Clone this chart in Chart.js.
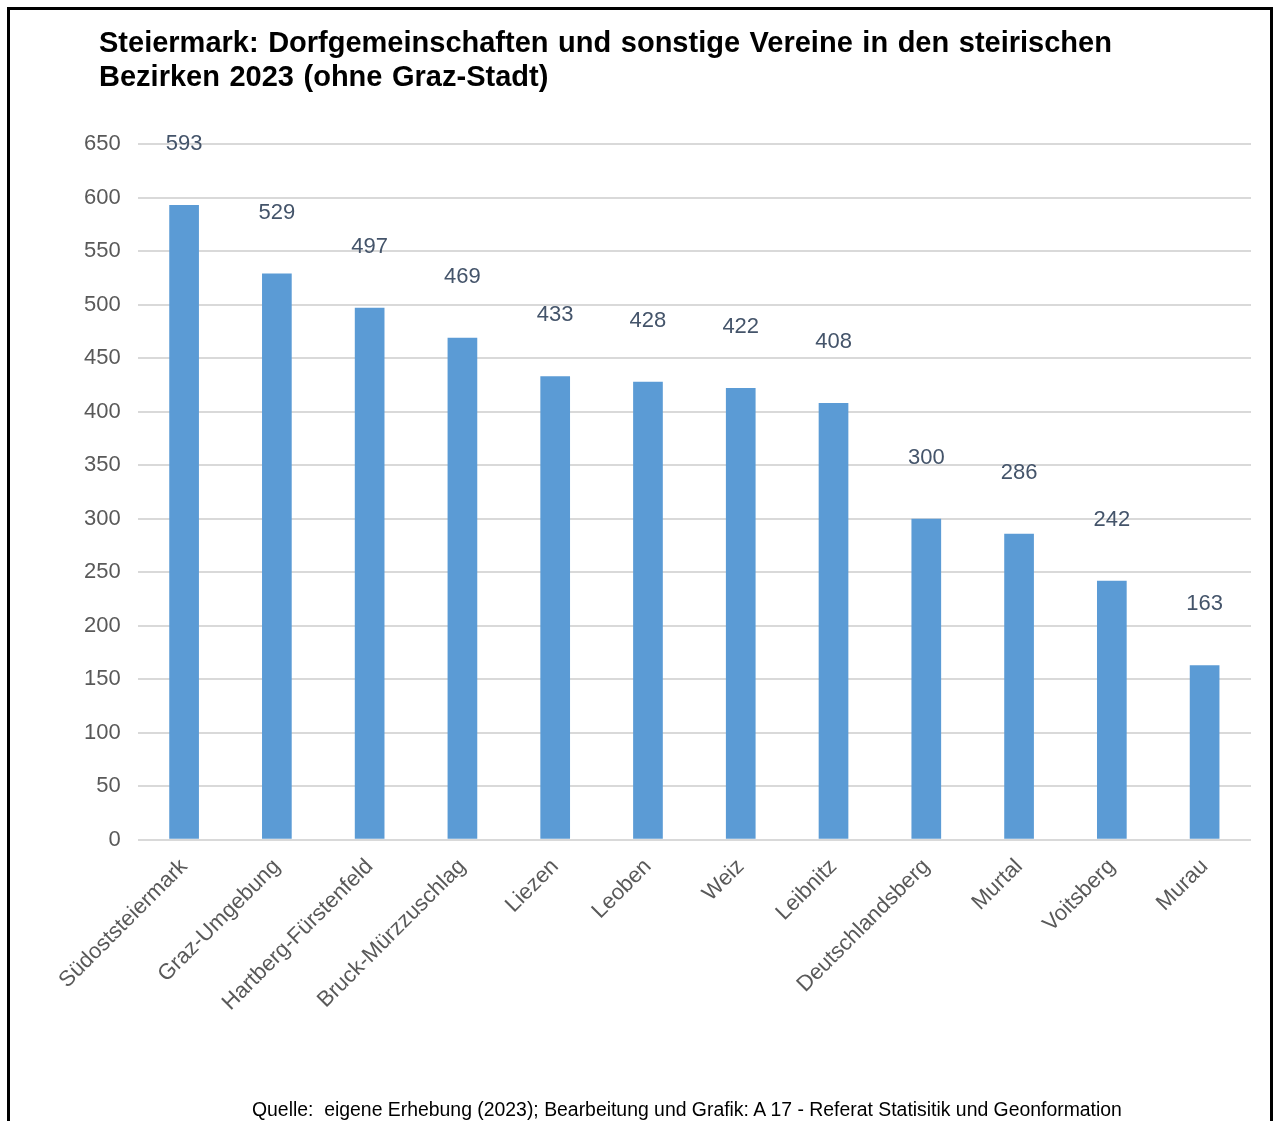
<!DOCTYPE html>
<html>
<head>
<meta charset="utf-8">
<script src="https://cdn.jsdelivr.net/npm/chart.js@4.4.0/dist/chart.umd.min.js"></script>
<style>
  body { margin: 0; background: #fff; overflow: hidden; }
  #wrap { position: relative; width: 1276px; height: 1121px; }
  #rahmen { position: absolute; left: 7px; top: 7px; width: 1266px; height: 1140px; border: 3px solid #000; box-sizing: border-box; }
  #titel { position: absolute; left: 99px; top: 25px; font: bold 29px 'Liberation Sans', Arial, sans-serif; line-height: 34px; word-spacing: 1.5px; color: #000; white-space: pre; }
  #quelle { position: absolute; left: 252px; top: 1097px; font: 19.4px 'Liberation Sans', Arial, sans-serif; line-height: 24px; color: #000; white-space: pre; }
  canvas { position: absolute; left: 0; top: 0; }
</style>
</head>
<body>
<div id="wrap">
  <div id="rahmen"></div>
  <canvas id="myChart" width="1276" height="1121"></canvas>
  <div id="titel">Steiermark: Dorfgemeinschaften und sonstige Vereine in den steirischen
Bezirken 2023 (ohne Graz-Stadt)</div>
  <div id="quelle">Quelle:  eigene Erhebung (2023); Bearbeitung und Grafik: A 17 - Referat Statisitik und Geonformation</div>
</div>
<script>
// Daten aus der Grafik
const bezirke = ['Südoststeiermark', 'Graz-Umgebung', 'Hartberg-Fürstenfeld', 'Bruck-Mürzzuschlag',
    'Liezen', 'Leoben', 'Weiz', 'Leibnitz', 'Deutschlandsberg', 'Murtal', 'Voitsberg', 'Murau'];
const vereine = [593, 529, 497, 469, 433, 428, 422, 408, 300, 286, 242, 163];
const yMin = 0;
const yMax = 650;
const yStep = 50;

// Werte über den Balken (mit Abstand wie im Original)
const wertePlugin = {
    id: 'werte',
    afterDatasetsDraw(chart) {
        const ctx = chart.ctx;
        ctx.save();
        ctx.font = '22px "Liberation Sans", Arial, sans-serif';
        ctx.fillStyle = '#44546A';
        ctx.textAlign = 'center';
        ctx.textBaseline = 'middle';
        chart.getDatasetMeta(0).data.forEach((bar, i) => {
            ctx.fillText(vereine[i], bar.x, bar.y - 61);
        });
        ctx.restore();
    }
};

const ctx = document.getElementById('myChart').getContext('2d');
const myChart = new Chart(ctx, {
    type: 'bar',
    data: {
        labels: bezirke,
        datasets: [{
            data: vereine,
            backgroundColor: '#5B9BD5',
            borderWidth: 0,
            categoryPercentage: 1,
            barPercentage: 0.32
        }]
    },
    options: {
        responsive: false,
        animation: false,
        layout: {
            padding: { left: 67, right: 25, top: 144, bottom: 99 }
        },
        scales: {
            x: {
                grid: { display: false },
                border: { display: false },
                ticks: {
                    color: '#595959',
                    font: { family: '"Liberation Sans", Arial, sans-serif', size: 22 },
                    minRotation: 45,
                    maxRotation: 45,
                    padding: 6,
                    autoSkip: false
                }
            },
            y: {
                min: yMin,
                max: yMax,
                grid: { color: '#d9d9d9', lineWidth: 2, drawTicks: false },
                border: { display: false },
                ticks: {
                    stepSize: yStep,
                    color: '#595959',
                    font: { family: '"Liberation Sans", Arial, sans-serif', size: 22 },
                    padding: 17
                }
            }
        },
        plugins: {
            legend: { display: false },
            tooltip: { enabled: false }
        }
    },
    plugins: [wertePlugin]
});
</script>
</body>
</html>
